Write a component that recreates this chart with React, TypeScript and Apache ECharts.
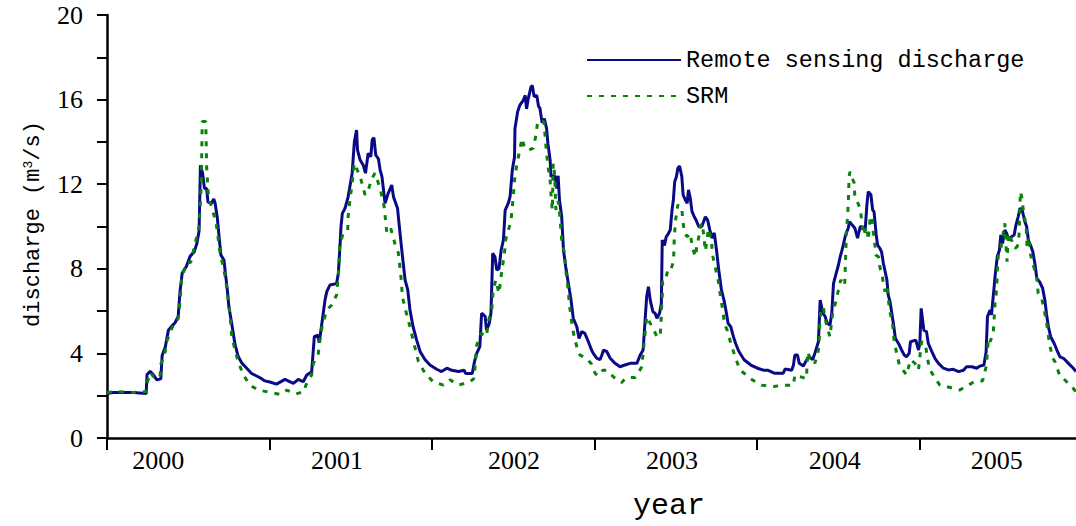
import React, { useEffect, useRef } from "react";
import * as echarts from "echarts";

const yearLabels = ["2000", "2001", "2002", "2003", "2004", "2005"];
const yearStartDays = [0, 366, 731, 1096, 1461, 1827];
const yearLabelDays = [115, 517, 915, 1270, 1636, 2000];
const lastDay = 2178;

const sensingName = "Remote sensing discharge";
const srmName = "SRM";

// [day since 2000-01-01, discharge m3/s]
const sensing: [number, number][] = [
  [0,2.1],[14,2.15],[59,2.15],[88,2.1],[90,3.0],[97,3.15],[104,3.0],[112,2.75],[121,2.8],[124,3.9],[131,4.3],[138,5.1],[146,5.3],[153,5.45],[160,5.75],[164,6.9],[169,7.8],[178,8.1],[187,8.6],[196,8.8],[202,9.2],[207,9.8],[210,12.9],[215,12.5],[219,11.8],[224,11.8],[227,11.15],[235,11.1],[240,11.3],[243,11.1],[248,10.4],[252,9.5],[256,8.65],[263,8.4],[266,7.8],[270,7.1],[274,6.2],[280,5.45],[288,4.4],[295,3.85],[303,3.55],[314,3.3],[325,3.05],[344,2.85],[355,2.7],[366,2.65],[381,2.55],[400,2.77],[419,2.58],[430,2.77],[441,2.66],[449,2.98],[460,3.13],[466,4.79],[474,4.87],[477,4.5],[484,5.58],[490,6.52],[494,6.92],[501,7.23],[516,7.3],[520,7.79],[524,9.2],[526,10.0],[529,10.62],[535,10.86],[542,11.4],[551,12.52],[556,14.0],[561,14.56],[563,13.62],[569,13.14],[576,12.9],[581,12.52],[587,13.46],[593,13.3],[596,14.09],[600,14.2],[604,13.38],[610,13.2],[614,12.67],[618,12.36],[625,11.1],[632,11.57],[640,11.96],[644,11.4],[653,10.86],[656,10.23],[661,9.2],[665,8.42],[670,7.47],[676,7.0],[681,6.05],[688,5.26],[696,4.63],[704,4.08],[715,3.7],[726,3.45],[741,3.25],[752,3.14],[764,3.3],[775,3.2],[790,3.14],[803,3.2],[806,3.05],[821,3.05],[826,3.61],[831,4.0],[838,4.32],[842,5.9],[850,5.75],[853,5.1],[859,5.4],[863,5.9],[867,8.73],[872,8.57],[876,7.94],[881,8.0],[886,8.89],[891,9.36],[895,10.78],[902,11.1],[906,11.41],[911,12.67],[916,13.3],[917,14.64],[923,15.43],[928,15.74],[936,15.98],[940,16.2],[943,15.56],[947,16.06],[953,16.6],[956,16.67],[960,16.14],[966,16.2],[970,15.67],[973,15.6],[978,14.9],[983,15.1],[988,14.64],[991,13.93],[996,13.14],[998,12.36],[1003,12.4],[1007,12.36],[1011,11.8],[1014,12.4],[1017,11.25],[1022,10.46],[1026,8.89],[1031,8.1],[1037,7.31],[1043,6.52],[1048,5.66],[1056,5.26],[1061,4.71],[1067,5.03],[1074,4.95],[1082,4.55],[1089,4.16],[1093,4.0],[1101,3.77],[1108,3.7],[1112,3.9],[1116,4.16],[1123,4.1],[1131,3.77],[1142,3.53],[1153,3.37],[1164,3.45],[1176,3.53],[1191,3.53],[1198,3.9],[1205,4.16],[1209,5.42],[1213,6.68],[1217,7.15],[1221,6.52],[1227,5.97],[1232,5.9],[1236,5.66],[1242,5.9],[1246,6.37],[1248,9.36],[1253,9.1],[1257,9.52],[1260,9.6],[1266,9.83],[1270,10.78],[1273,11.25],[1276,12.12],[1280,12.36],[1283,12.75],[1287,12.86],[1292,12.36],[1295,11.49],[1300,11.25],[1304,11.1],[1307,11.73],[1311,11.33],[1315,10.7],[1320,10.46],[1324,10.3],[1330,10.0],[1337,10.0],[1345,10.46],[1350,10.3],[1355,9.83],[1360,9.45],[1365,9.7],[1370,8.89],[1375,7.94],[1381,7.0],[1387,6.5],[1391,6.05],[1396,5.42],[1402,5.26],[1408,4.79],[1413,4.47],[1420,4.1],[1432,3.7],[1447,3.45],[1462,3.3],[1477,3.2],[1486,3.2],[1501,3.06],[1520,3.06],[1524,3.26],[1539,3.2],[1543,3.45],[1546,3.92],[1552,3.92],[1556,3.53],[1565,3.4],[1573,3.7],[1579,3.84],[1586,3.7],[1591,4.0],[1599,4.55],[1603,6.52],[1609,5.9],[1614,5.75],[1619,5.42],[1625,5.34],[1629,5.9],[1633,7.31],[1639,7.79],[1644,8.18],[1648,8.57],[1651,8.8],[1655,9.13],[1660,9.6],[1666,9.92],[1669,10.23],[1674,10.1],[1681,9.92],[1687,9.45],[1693,10.0],[1699,9.95],[1704,9.8],[1708,11.02],[1711,11.65],[1717,11.5],[1721,10.78],[1724,10.7],[1729,9.6],[1732,9.13],[1737,8.97],[1741,8.8],[1745,8.26],[1749,7.87],[1753,7.47],[1756,6.76],[1760,6.45],[1764,5.9],[1768,5.34],[1772,4.71],[1779,4.47],[1786,4.16],[1792,3.92],[1797,3.84],[1803,4.0],[1806,4.55],[1818,4.63],[1824,4.16],[1827,4.47],[1830,6.13],[1836,5.1],[1842,5.03],[1846,4.47],[1854,4.08],[1861,3.77],[1869,3.53],[1880,3.3],[1891,3.22],[1902,3.25],[1914,3.14],[1925,3.2],[1932,3.37],[1944,3.37],[1955,3.3],[1962,3.4],[1971,3.45],[1976,4.08],[1979,5.74],[1985,6.05],[1988,5.82],[1994,7.15],[1996,7.63],[2001,8.57],[2006,8.89],[2009,9.6],[2013,9.2],[2018,9.83],[2022,9.68],[2027,9.36],[2033,9.52],[2039,9.6],[2043,10.07],[2048,10.46],[2052,10.86],[2057,10.78],[2063,10.23],[2067,10.0],[2071,9.36],[2076,9.1],[2081,8.81],[2086,8.18],[2090,7.55],[2096,7.39],[2103,7.08],[2108,6.52],[2112,5.82],[2116,5.26],[2121,4.79],[2129,4.47],[2135,4.16],[2142,3.84],[2150,3.77],[2161,3.53],[2172,3.3],[2178,3.14]
];

const srm: [number, number][] = [
  [0,2.15],[20,2.2],[60,2.15],[88,2.2],[91,2.65],[97,3.1],[105,2.9],[119,2.85],[121,3.5],[130,3.9],[133,4.5],[146,5.2],[160,5.65],[164,6.4],[168,7.6],[179,8.3],[188,8.3],[196,9.0],[207,10.0],[212,12.0],[214,14.96],[222,14.96],[224,12.8],[228,11.4],[238,10.7],[245,10.2],[249,9.6],[252,9.0],[258,8.4],[266,7.6],[271,6.8],[273,6.4],[277,5.7],[280,4.9],[286,4.3],[295,3.6],[306,3.0],[321,2.5],[340,2.27],[366,2.16],[389,2.06],[404,2.26],[425,2.08],[443,2.2],[447,2.5],[460,2.98],[464,3.53],[475,4.0],[479,4.71],[484,5.34],[494,6.05],[505,6.29],[516,6.76],[521,7.94],[523,9.13],[531,9.68],[541,9.8],[542,10.46],[546,11.25],[550,11.88],[556,12.99],[569,12.36],[580,11.49],[587,11.7],[594,12.2],[602,12.52],[606,12.3],[614,11.8],[623,10.94],[629,9.68],[638,9.9],[647,9.2],[655,8.73],[661,7.55],[664,6.68],[671,6.05],[680,5.34],[688,4.63],[700,3.61],[715,3.06],[733,2.66],[756,2.5],[771,2.75],[790,2.5],[816,2.66],[824,2.8],[827,3.3],[831,4.4],[841,4.95],[853,4.8],[857,5.5],[865,6.13],[868,7.0],[874,7.47],[881,6.84],[885,7.5],[888,8.02],[893,8.65],[896,9.36],[902,9.83],[908,10.23],[911,10.94],[914,11.65],[917,12.43],[924,13.22],[933,14.17],[938,13.74],[947,13.6],[958,13.7],[964,14.3],[968,14.96],[975,15.0],[982,14.96],[985,14.2],[988,13.46],[992,12.75],[996,12.2],[999,11.17],[1001,10.78],[1003,12.99],[1006,12.5],[1009,10.78],[1014,11.2],[1018,10.46],[1022,9.36],[1029,8.65],[1031,7.94],[1035,7.31],[1040,6.2],[1045,5.4],[1050,4.79],[1059,4.08],[1063,3.92],[1078,3.77],[1089,3.5],[1097,3.06],[1104,2.94],[1114,3.2],[1123,3.2],[1134,2.98],[1140,2.86],[1157,2.62],[1164,2.8],[1176,2.86],[1187,2.86],[1194,3.06],[1202,3.37],[1205,4.0],[1209,4.87],[1213,5.74],[1221,5.42],[1227,5.2],[1236,4.79],[1243,4.79],[1245,5.26],[1246,5.97],[1248,6.68],[1249,7.39],[1255,7.4],[1261,8.02],[1268,8.0],[1273,8.34],[1274,8.73],[1275,9.44],[1278,10.31],[1283,11.02],[1292,10.9],[1294,10.31],[1298,9.68],[1304,9.52],[1311,9.68],[1316,8.97],[1323,8.57],[1325,8.97],[1331,9.6],[1333,9.99],[1338,10.15],[1342,9.45],[1345,8.84],[1352,9.9],[1358,9.4],[1362,8.57],[1367,8.1],[1375,7.31],[1379,6.68],[1384,6.05],[1388,5.39],[1394,5.1],[1402,4.48],[1413,3.77],[1423,3.21],[1432,3.06],[1451,2.74],[1471,2.5],[1498,2.44],[1524,2.5],[1543,2.5],[1546,2.98],[1558,2.9],[1572,2.8],[1575,4.08],[1580,3.77],[1586,3.77],[1591,3.53],[1599,4.16],[1601,4.71],[1602,5.42],[1604,5.97],[1610,6.2],[1614,5.66],[1619,5.2],[1625,4.79],[1631,5.9],[1639,6.5],[1644,7.0],[1649,7.47],[1655,7.31],[1658,7.2],[1660,8.42],[1662,9.83],[1664,10.31],[1666,11.02],[1668,12.36],[1670,12.59],[1674,12.3],[1679,12.1],[1681,11.4],[1685,11.25],[1691,10.94],[1694,10.7],[1700,9.6],[1708,10.0],[1711,9.36],[1715,10.3],[1719,10.5],[1722,9.83],[1726,9.13],[1728,8.65],[1734,8.57],[1737,8.1],[1743,7.63],[1745,7.23],[1749,6.92],[1753,7.2],[1759,6.05],[1766,5.34],[1769,4.63],[1775,4.0],[1781,3.45],[1797,2.98],[1806,3.7],[1816,3.53],[1824,3.21],[1827,3.84],[1831,4.55],[1839,4.47],[1844,3.84],[1848,3.3],[1859,2.9],[1872,2.5],[1893,2.4],[1917,2.27],[1932,2.46],[1947,2.63],[1958,2.7],[1968,2.7],[1976,3.37],[1979,4.08],[1981,4.71],[1985,4.55],[1992,4.95],[1994,5.66],[1996,6.37],[2000,7.1],[2001,7.87],[2003,8.57],[2009,8.97],[2018,10.15],[2021,8.97],[2023,8.34],[2026,9.68],[2033,9.36],[2041,8.97],[2046,9.05],[2050,9.6],[2051,10.31],[2052,10.94],[2053,11.65],[2056,11.4],[2060,10.7],[2066,10.0],[2068,8.97],[2071,9.52],[2076,8.65],[2084,8.02],[2090,7.55],[2093,6.84],[2101,6.6],[2108,5.9],[2114,5.18],[2118,4.47],[2126,3.77],[2131,3.6],[2141,2.98],[2157,2.66],[2172,2.34],[2178,2.19]
];

const SERIF = "'Liberation Serif', 'DejaVu Serif', serif";
const MONO = "'Liberation Mono', 'DejaVu Sans Mono', monospace";
const BLUE = "#0a0a86";
const GREEN = "#0a820a";

export default function App() {
  const ref = useRef<HTMLDivElement>(null);
  useEffect(() => {
    if (!ref.current) return;
    const chart = echarts.init(ref.current, undefined, { renderer: "svg" });
    chart.setOption({
      animation: false,
      backgroundColor: "#ffffff",
      grid: { left: 107, right: 0, top: 15, bottom: 88, containLabel: false },
      legend: {
        orient: "vertical",
        left: 586,
        top: 48,
        padding: 0,
        itemWidth: 94,
        itemHeight: 26,
        itemGap: 12,
        itemStyle: { opacity: 0 },
        data: [sensingName, srmName],
        textStyle: { fontFamily: MONO, fontSize: 23.5, color: "#000" },
      },
      xAxis: {
        type: "value",
        min: 0,
        max: lastDay,
        splitLine: { show: false },
        axisLine: { show: true, onZero: false, lineStyle: { color: "#000", width: 2.5 } },
        axisTick: {
          show: true,
          customValues: yearStartDays,
          length: 12,
          lineStyle: { color: "#000", width: 2 },
        },
        axisLabel: {
          customValues: yearLabelDays,
          formatter: (v: number) => {
            const i = yearLabelDays.indexOf(Math.round(v));
            return i >= 0 ? yearLabels[i] : "";
          },
          fontFamily: SERIF,
          fontSize: 26,
          color: "#000",
          margin: 9,
        },
      },
      yAxis: {
        type: "value",
        min: 0,
        max: 20,
        interval: 2,
        splitLine: { show: false },
        axisLine: { show: true, lineStyle: { color: "#000", width: 2.5 } },
        axisTick: { show: true, length: 10, lineStyle: { color: "#000", width: 2 } },
        axisLabel: {
          formatter: (v: number) => (v % 4 === 0 ? String(v) : ""),
          fontFamily: SERIF,
          fontSize: 26,
          color: "#000",
          margin: 24,
        },
      },
      graphic: [
        {
          type: "text",
          x: 669,
          y: 506,
          style: {
            text: "year",
            fontFamily: MONO,
            fontSize: 30,
            fill: "#000",
            align: "center",
            verticalAlign: "middle",
          },
        },
        {
          type: "text",
          x: 33,
          y: 224,
          rotation: Math.PI / 2,
          style: {
            text: "{a|discharge (m}{b|3}{a|/s)}",
            align: "center",
            verticalAlign: "middle",
            rich: {
              a: { fontFamily: MONO, fontSize: 22, fill: "#000", color: "#000" },
              b: { fontFamily: MONO, fontSize: 13, fill: "#000", color: "#000", verticalAlign: "top", padding: [0, 0, 10, 0] },
            },
          },
        },
      ],
      series: [
        {
          name: sensingName,
          type: "line",
          data: sensing,
          symbol: "none",
          showSymbol: false,
          lineStyle: { color: BLUE, width: 3 },
          itemStyle: { color: BLUE },
          z: 2,
        },
        {
          name: srmName,
          type: "line",
          data: srm,
          symbol: "none",
          showSymbol: false,
          lineStyle: { color: GREEN, width: 3, type: [5, 7] },
          itemStyle: { color: GREEN },
          z: 3,
        },
      ],
    });
    return () => chart.dispose();
  }, []);
  return (
    <div
      ref={ref}
      style={{ position: "fixed", left: 0, top: 0, width: 1076, height: 526, background: "#fff" }}
    />
  );
}
